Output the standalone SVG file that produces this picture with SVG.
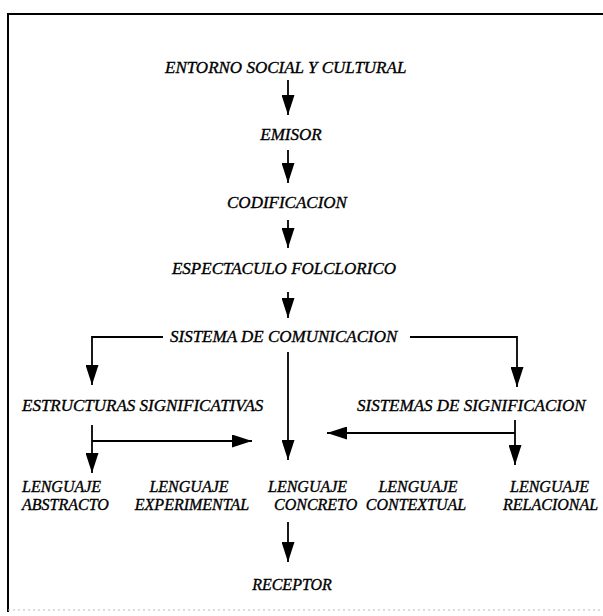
<svg xmlns="http://www.w3.org/2000/svg" width="603" height="616" viewBox="0 0 603 616">
<style>
.t{font-family:"Liberation Serif","DejaVu Serif",serif;font-style:italic;font-size:17px;fill:#000;stroke:#000;stroke-width:0.35}
.s{font-size:16px}
.c{text-anchor:middle}
.ln{fill:none;stroke:#000;stroke-width:1.8}
.fr{fill:none;stroke:#000;stroke-width:2}
</style>
<defs>
<marker id="ah" viewBox="0 0 20 13" refX="20" refY="6.5" markerWidth="20" markerHeight="13" markerUnits="userSpaceOnUse" orient="auto">
<path d="M0,0 L20,6.5 L0,13 z" fill="#000"/>
</marker>
</defs>
<rect x="0" y="0" width="603" height="616" fill="#fff"/>
<path class="fr" d="M8,612 V14 H603"/>
<path d="M8,610 H603" fill="none" stroke="#bbb" stroke-width="1" stroke-dasharray="2 3"/>
<g id="n1"><text class="t" x="165" y="73">ENTORNO SOCIAL Y CULTURAL</text></g>
<g id="n2"><text class="t c" x="291" y="140">EMISOR</text></g>
<g id="n3"><text class="t c" x="287" y="208">CODIFICACION</text></g>
<g id="n4"><text class="t c" x="284" y="274" font-size="16">ESPECTACULO FOLCLORICO</text></g>
<g id="n5"><text class="t" x="170" y="342">SISTEMA DE COMUNICACION</text></g>
<g id="n6"><text class="t" x="22" y="411">ESTRUCTURAS SIGNIFICATIVAS</text></g>
<g id="n7"><text class="t" x="357" y="411">SISTEMAS DE SIGNIFICACION</text></g>
<g id="n8"><text class="t s" x="22" y="492">LENGUAJE</text><text class="t s" x="22" y="510">ABSTRACTO</text></g>
<g id="n9"><text class="t s c" x="189" y="492">LENGUAJE</text><text class="t s c" x="192" y="510">EXPERIMENTAL</text></g>
<g id="n10"><text class="t s" x="268" y="492">LENGUAJE</text><text class="t s" x="274" y="510">CONCRETO</text></g>
<g id="n11"><text class="t s c" x="418" y="492">LENGUAJE</text><text class="t s c" x="416" y="510">CONTEXTUAL</text></g>
<g id="n12"><text class="t s" x="510" y="492">LENGUAJE</text><text class="t s" x="503" y="510">RELACIONAL</text></g>
<g id="n13"><text class="t s c" x="292" y="590">RECEPTOR</text></g>
<g id="connectors">
<path class="ln" d="M288,80 V115" marker-end="url(#ah)"/>
<path class="ln" d="M288,150 V183" marker-end="url(#ah)"/>
<path class="ln" d="M288,220 V248" marker-end="url(#ah)"/>
<path class="ln" d="M288,292 V318" marker-end="url(#ah)"/>
<path class="ln" d="M163,337 H92 V385" marker-end="url(#ah)"/>
<path class="ln" d="M410,337 H517 V387" marker-end="url(#ah)"/>
<path class="ln" d="M288,352 V460" marker-end="url(#ah)"/>
<path class="ln" d="M92,425 V473" marker-end="url(#ah)"/>
<path class="ln" d="M92,441 H252" marker-end="url(#ah)"/>
<path class="ln" d="M515,420 V465" marker-end="url(#ah)"/>
<path class="ln" d="M515,433 H327" marker-end="url(#ah)"/>
<path class="ln" d="M288,522 V562" marker-end="url(#ah)"/>
</g>
</svg>
